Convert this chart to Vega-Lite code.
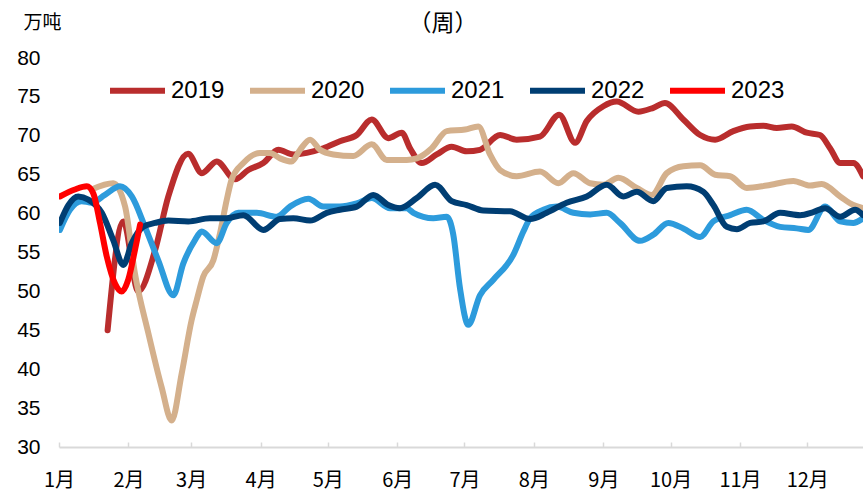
{
  "$schema": "https://vega.github.io/schema/vega-lite/v6.json",
  "autosize": "none",
  "width": 804,
  "height": 389,
  "padding": {"left": 59, "top": 58, "right": 0, "bottom": 44},
  "background": "white",
  "title": {
    "text": "（周）",
    "anchor": "middle",
    "frame": "group",
    "baseline": "middle",
    "offset": -34,
    "dx": -18,
    "font": "Noto Sans CJK SC",
    "fontSize": 23,
    "fontWeight": "normal",
    "color": "#000000"
  },
  "config": {
    "view": {"stroke": null},
    "axis": {"grid": false}
  },
  "data": {
    "values": [
      {"s":"2019","d":21.7,"v":45.0},{"s":"2019","d":28.7,"v":59.0},{"s":"2019","d":35.4,"v":50.0},{"s":"2019","d":42.9,"v":55.3},{"s":"2019","d":48.8,"v":62.2},{"s":"2019","d":57.6,"v":67.7},{"s":"2019","d":63.8,"v":65.2},{"s":"2019","d":70.4,"v":66.7},{"s":"2019","d":78.6,"v":64.4},{"s":"2019","d":84.5,"v":65.6},{"s":"2019","d":91.2,"v":66.5},{"s":"2019","d":97.9,"v":68.2},{"s":"2019","d":104.6,"v":67.6},{"s":"2019","d":110.6,"v":67.8},{"s":"2019","d":118.0,"v":68.4},{"s":"2019","d":125.4,"v":69.3},{"s":"2019","d":132.9,"v":70.1},{"s":"2019","d":139.6,"v":72.1},{"s":"2019","d":147.0,"v":69.7},{"s":"2019","d":153.0,"v":70.4},{"s":"2019","d":156.7,"v":68.4},{"s":"2019","d":161.9,"v":66.5},{"s":"2019","d":168.6,"v":67.6},{"s":"2019","d":175.3,"v":68.6},{"s":"2019","d":182.0,"v":68.0},{"s":"2019","d":187.9,"v":68.2},{"s":"2019","d":196.9,"v":70.1},{"s":"2019","d":204.3,"v":69.5},{"s":"2019","d":214.7,"v":69.9},{"s":"2019","d":223.3,"v":72.7},{"s":"2019","d":230.4,"v":69.1},{"s":"2019","d":235.6,"v":71.9},{"s":"2019","d":243.0,"v":73.8},{"s":"2019","d":249.0,"v":74.4},{"s":"2019","d":258.6,"v":73.1},{"s":"2019","d":265.3,"v":73.6},{"s":"2019","d":270.5,"v":74.2},{"s":"2019","d":278.7,"v":72.1},{"s":"2019","d":286.2,"v":70.1},{"s":"2019","d":292.9,"v":69.5},{"s":"2019","d":301.0,"v":70.6},{"s":"2019","d":308.5,"v":71.2},{"s":"2019","d":314.4,"v":71.3},{"s":"2019","d":320.4,"v":71.0},{"s":"2019","d":327.1,"v":71.2},{"s":"2019","d":333.8,"v":70.4},{"s":"2019","d":339.7,"v":70.1},{"s":"2019","d":344.2,"v":68.4},{"s":"2019","d":348.7,"v":66.5},{"s":"2019","d":354.6,"v":66.5},{"s":"2019","d":358.9,"v":64.8},
      {"s":"2020","d":14.6,"v":63.1},{"s":"2020","d":24.2,"v":63.9},{"s":"2020","d":29.5,"v":60.9},{"s":"2020","d":33.9,"v":52.3},{"s":"2020","d":39.9,"v":44.6},{"s":"2020","d":45.8,"v":37.7},{"s":"2020","d":50.3,"v":33.4},{"s":"2020","d":54.8,"v":39.5},{"s":"2020","d":59.2,"v":46.3},{"s":"2020","d":61.5,"v":48.9},{"s":"2020","d":64.4,"v":51.9},{"s":"2020","d":68.9,"v":54.0},{"s":"2020","d":71.9,"v":57.5},{"s":"2020","d":74.9,"v":61.8},{"s":"2020","d":77.1,"v":64.4},{"s":"2020","d":82.3,"v":66.5},{"s":"2020","d":89.7,"v":67.8},{"s":"2020","d":94.2,"v":67.8},{"s":"2020","d":98.7,"v":67.1},{"s":"2020","d":103.9,"v":66.7},{"s":"2020","d":107.6,"v":68.2},{"s":"2020","d":112.1,"v":69.5},{"s":"2020","d":116.5,"v":68.2},{"s":"2020","d":122.5,"v":67.6},{"s":"2020","d":131.4,"v":67.4},{"s":"2020","d":139.6,"v":68.9},{"s":"2020","d":146.3,"v":66.9},{"s":"2020","d":155.2,"v":66.9},{"s":"2020","d":159.7,"v":67.1},{"s":"2020","d":166.4,"v":68.4},{"s":"2020","d":173.1,"v":70.6},{"s":"2020","d":181.3,"v":70.8},{"s":"2020","d":187.2,"v":71.2},{"s":"2020","d":192.4,"v":67.6},{"s":"2020","d":196.9,"v":65.6},{"s":"2020","d":204.3,"v":64.8},{"s":"2020","d":214.7,"v":65.4},{"s":"2020","d":222.9,"v":63.9},{"s":"2020","d":229.6,"v":65.2},{"s":"2020","d":237.1,"v":63.9},{"s":"2020","d":243.0,"v":63.7},{"s":"2020","d":249.7,"v":64.6},{"s":"2020","d":257.9,"v":63.3},{"s":"2020","d":264.6,"v":62.4},{"s":"2020","d":271.3,"v":65.2},{"s":"2020","d":278.7,"v":66.1},{"s":"2020","d":286.2,"v":66.2},{"s":"2020","d":292.9,"v":65.0},{"s":"2020","d":299.6,"v":64.8},{"s":"2020","d":307.0,"v":63.3},{"s":"2020","d":315.9,"v":63.6},{"s":"2020","d":327.8,"v":64.2},{"s":"2020","d":335.3,"v":63.6},{"s":"2020","d":340.5,"v":63.8},{"s":"2020","d":348.7,"v":62.2},{"s":"2020","d":354.6,"v":61.1},{"s":"2020","d":358.9,"v":60.7},
      {"s":"2021","d":0.4,"v":57.9},{"s":"2021","d":4.9,"v":60.5},{"s":"2021","d":10.1,"v":61.6},{"s":"2021","d":14.6,"v":61.4},{"s":"2021","d":20.5,"v":62.4},{"s":"2021","d":27.2,"v":63.5},{"s":"2021","d":32.5,"v":62.2},{"s":"2021","d":38.4,"v":58.3},{"s":"2021","d":44.3,"v":54.0},{"s":"2021","d":51.0,"v":49.5},{"s":"2021","d":55.5,"v":53.6},{"s":"2021","d":60.7,"v":56.6},{"s":"2021","d":63.7,"v":57.7},{"s":"2021","d":70.4,"v":56.2},{"s":"2021","d":74.9,"v":58.8},{"s":"2021","d":80.0,"v":60.1},{"s":"2021","d":88.3,"v":60.1},{"s":"2021","d":97.2,"v":59.6},{"s":"2021","d":103.1,"v":60.9},{"s":"2021","d":111.3,"v":61.9},{"s":"2021","d":118.0,"v":60.9},{"s":"2021","d":125.4,"v":60.9},{"s":"2021","d":132.9,"v":61.3},{"s":"2021","d":139.6,"v":62.0},{"s":"2021","d":147.8,"v":60.7},{"s":"2021","d":155.2,"v":60.7},{"s":"2021","d":158.2,"v":60.1},{"s":"2021","d":167.1,"v":59.4},{"s":"2021","d":173.1,"v":59.6},{"s":"2021","d":176.0,"v":57.3},{"s":"2021","d":179.0,"v":50.4},{"s":"2021","d":182.7,"v":45.7},{"s":"2021","d":187.9,"v":49.5},{"s":"2021","d":193.9,"v":51.5},{"s":"2021","d":202.8,"v":54.7},{"s":"2021","d":207.3,"v":57.7},{"s":"2021","d":210.3,"v":59.4},{"s":"2021","d":216.2,"v":60.5},{"s":"2021","d":222.2,"v":60.9},{"s":"2021","d":229.6,"v":60.1},{"s":"2021","d":237.1,"v":59.9},{"s":"2021","d":244.5,"v":60.1},{"s":"2021","d":250.4,"v":58.8},{"s":"2021","d":259.4,"v":56.5},{"s":"2021","d":265.3,"v":57.3},{"s":"2021","d":272.0,"v":58.8},{"s":"2021","d":278.7,"v":58.1},{"s":"2021","d":286.2,"v":57.0},{"s":"2021","d":292.1,"v":59.0},{"s":"2021","d":299.6,"v":59.8},{"s":"2021","d":307.0,"v":60.5},{"s":"2021","d":314.4,"v":59.2},{"s":"2021","d":321.9,"v":58.3},{"s":"2021","d":329.3,"v":58.1},{"s":"2021","d":334.5,"v":57.9},{"s":"2021","d":342.0,"v":60.9},{"s":"2021","d":348.7,"v":59.0},{"s":"2021","d":354.6,"v":58.8},{"s":"2021","d":358.9,"v":59.4},
      {"s":"2022","d":0.4,"v":58.8},{"s":"2022","d":4.2,"v":61.1},{"s":"2022","d":8.6,"v":62.2},{"s":"2022","d":13.1,"v":61.8},{"s":"2022","d":19.1,"v":60.1},{"s":"2022","d":24.2,"v":56.6},{"s":"2022","d":28.7,"v":53.4},{"s":"2022","d":32.5,"v":56.2},{"s":"2022","d":37.6,"v":58.3},{"s":"2022","d":42.9,"v":58.8},{"s":"2022","d":48.8,"v":59.1},{"s":"2022","d":57.7,"v":59.0},{"s":"2022","d":67.4,"v":59.4},{"s":"2022","d":74.9,"v":59.4},{"s":"2022","d":82.3,"v":59.8},{"s":"2022","d":91.2,"v":57.9},{"s":"2022","d":98.7,"v":59.3},{"s":"2022","d":104.6,"v":59.4},{"s":"2022","d":112.1,"v":59.1},{"s":"2022","d":119.5,"v":60.1},{"s":"2022","d":125.4,"v":60.5},{"s":"2022","d":132.9,"v":60.9},{"s":"2022","d":140.3,"v":62.4},{"s":"2022","d":147.0,"v":61.1},{"s":"2022","d":152.2,"v":60.7},{"s":"2022","d":159.7,"v":62.0},{"s":"2022","d":167.9,"v":63.7},{"s":"2022","d":175.3,"v":61.6},{"s":"2022","d":182.0,"v":61.1},{"s":"2022","d":189.4,"v":60.4},{"s":"2022","d":201.3,"v":60.3},{"s":"2022","d":210.3,"v":59.3},{"s":"2022","d":217.7,"v":60.1},{"s":"2022","d":226.6,"v":61.4},{"s":"2022","d":235.6,"v":62.2},{"s":"2022","d":244.5,"v":63.7},{"s":"2022","d":251.9,"v":62.2},{"s":"2022","d":257.9,"v":62.8},{"s":"2022","d":265.3,"v":61.6},{"s":"2022","d":271.3,"v":63.3},{"s":"2022","d":280.2,"v":63.5},{"s":"2022","d":287.6,"v":62.8},{"s":"2022","d":292.1,"v":61.1},{"s":"2022","d":298.1,"v":58.3},{"s":"2022","d":302.6,"v":58.0},{"s":"2022","d":308.5,"v":58.8},{"s":"2022","d":314.4,"v":59.0},{"s":"2022","d":321.9,"v":60.1},{"s":"2022","d":330.8,"v":59.8},{"s":"2022","d":336.7,"v":60.2},{"s":"2022","d":342.0,"v":60.7},{"s":"2022","d":348.7,"v":59.6},{"s":"2022","d":355.4,"v":60.5},{"s":"2022","d":358.9,"v":59.8},
      {"s":"2023","d":0.4,"v":62.2},{"s":"2023","d":7.1,"v":63.1},{"s":"2023","d":12.4,"v":63.5},{"s":"2023","d":15.3,"v":62.6},{"s":"2023","d":18.3,"v":58.8},{"s":"2023","d":21.3,"v":54.5},{"s":"2023","d":25.0,"v":51.0},{"s":"2023","d":28.0,"v":50.0},{"s":"2023","d":30.9,"v":51.5},{"s":"2023","d":33.9,"v":55.3},{"s":"2023","d":36.2,"v":58.6}
    ]
  },
  "mark": {"type": "line", "strokeWidth": 6, "interpolate": "monotone", "strokeCap": "round", "strokeJoin": "round", "clip": true},
  "encoding": {
    "x": {
      "field": "d",
      "type": "quantitative",
      "scale": {"domain": [0, 358.9], "nice": false, "zero": false},
      "axis": {
        "title": null,
        "values": [0, 31, 59, 90, 120, 151, 181, 212, 243, 273, 304, 334],
        "labelExpr": "(indexof([0,31,59,90,120,151,181,212,243,273,304,334], datum.value) + 1) + '月'",
        "labelFont": "Noto Sans CJK SC",
        "labelFontSize": 20,
        "labelColor": "#000000",
        "labelPadding": 28,
        "labelFlush": false,
        "labelOverlap": false,
        "domainColor": "#d9d9d9",
        "domainWidth": 2,
        "tickColor": "#d9d9d9",
        "tickWidth": 1.5,
        "tickSize": -5
      }
    },
    "y": {
      "field": "v",
      "type": "quantitative",
      "scale": {"domain": [30, 80], "nice": false, "zero": false},
      "axis": {
        "values": [30, 35, 40, 45, 50, 55, 60, 65, 70, 75, 80],
        "domain": false,
        "ticks": false,
        "labelFont": "Liberation Sans",
        "labelFontSize": 21,
        "labelColor": "#000000",
        "labelPadding": 19,
        "title": "万吨",
        "titleAngle": 0,
        "titleX": -17,
        "titleY": -36,
        "titleAlign": "center",
        "titleBaseline": "middle",
        "titleFont": "Noto Sans CJK SC",
        "titleFontSize": 19,
        "titleFontWeight": "normal",
        "titleColor": "#000000"
      }
    },
    "color": {
      "field": "s",
      "type": "nominal",
      "scale": {
        "domain": ["2019", "2020", "2021", "2022", "2023"],
        "range": ["#B92D2D", "#D4B08C", "#2D9BDC", "#003E73", "#FF0000"]
      },
      "legend": {
        "title": null,
        "orient": "none",
        "direction": "horizontal",
        "legendX": 48,
        "legendY": 2,
        "symbolType": "stroke",
        "symbolSize": 3025,
        "symbolStrokeWidth": 6,
        "labelFont": "Liberation Sans",
        "labelFontSize": 24,
        "labelColor": "#000000",
        "labelOffset": 3,
        "columnPadding": 13,
        "padding": 0
      }
    }
  }
}
